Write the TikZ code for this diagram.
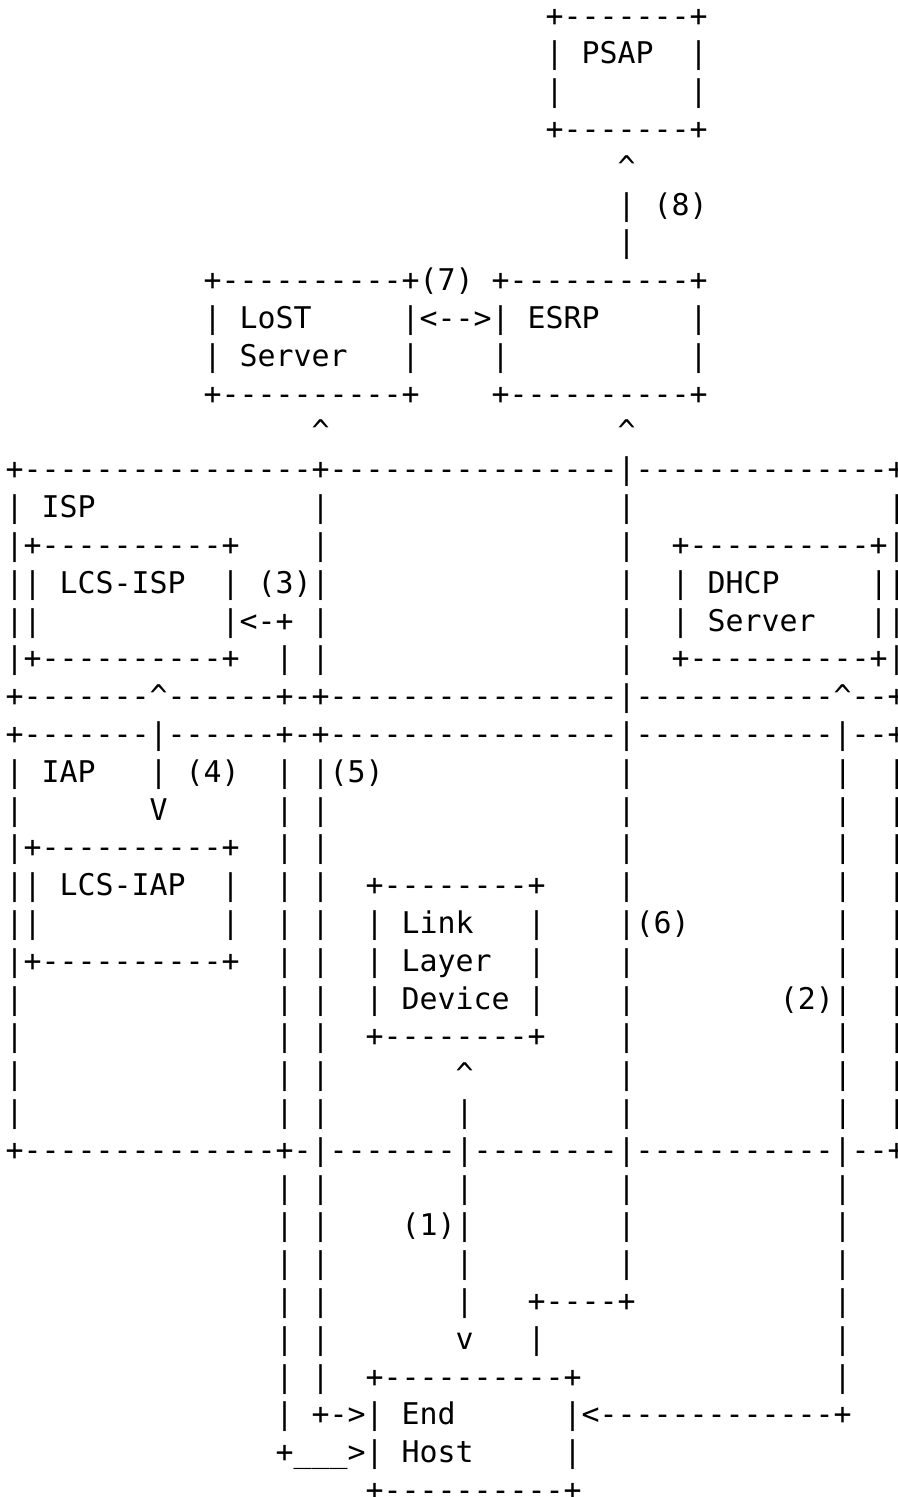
\documentclass[tikz,border=0pt]{standalone}
\usepackage{fontspec}
\newfontfamily\asciifont{DejaVu Sans Mono}
% blank run of n character cells
\newcommand\gap[1]{\kern#1\fontcharwd\font`\x\relax}
\newcommand\upc{\textasciicircum}
% last cell on the right border (cut by the page edge)
\newcommand\edge[1]{\rlap{#1}}
\begin{document}
\begin{tikzpicture}[x=9pt,y=-18.9pt,
    txt/.style={anchor=base west,inner sep=0pt,
      font=\asciifont\fontsize{14.95}{18.9}\selectfont}]
  \useasboundingbox (0pt,0pt) rectangle (449pt,-748.5pt);
  \begin{scope}[shift={(2.65pt,-13.1pt)}]
    % ===== PSAP and ESRP link =====
    \node[txt] (r0) at (30,0) {+-------+};
    \node[txt] (r1) at (30,1) {|~PSAP\gap2|};
    \node[txt] (r2) at (30,2) {|\gap7|};
    \node[txt] (r3) at (30,3) {+-------+};
    \node[txt] (r4) at (34,4) {\upc};
    \node[txt] (r5) at (34,5) {|~(8)};
    \node[txt] (r6) at (34,6) {|};

    % ===== LoST server and ESRP =====
    \node[txt] (r7) at (11,7) {+----------+(7)~+----------+};
    \node[txt] (r8) at (11,8) {|~LoST\gap5|<-->|~ESRP\gap5|};
    \node[txt] (r9) at (11,9) {|~Server\gap3|\gap4|\gap{10}|};
    \node[txt] (r10) at (11,10) {+----------+\gap4+----------+};
    \node[txt] (r11) at (17,11) {\upc\gap{16}\upc};

    % ===== ISP =====
    \node[txt] (r12) at (0,12) {+----------------+----------------|--------------\edge{+}};
    \node[txt] (r13) at (0,13) {|~ISP\gap{12}|\gap{16}|\gap{14}\edge{|}};
    \node[txt] (r14) at (0,14) {|+----------+\gap4|\gap{16}|\gap2+----------+\edge{|}};
    \node[txt] (r15) at (0,15) {||~LCS-ISP\gap2|~(3)|\gap{16}|\gap2|~DHCP\gap5|\edge{|}};
    \node[txt] (r16) at (0,16) {||\gap{10}|<-+~|\gap{16}|\gap2|~Server\gap3|\edge{|}};
    \node[txt] (r17) at (0,17) {|+----------+\gap2|~|\gap{16}|\gap2+----------+\edge{|}};
    \node[txt] (r18) at (0,18) {+-------\upc------+-+----------------|-----------\upc--\edge{+}};

    % ===== IAP =====
    \node[txt] (r19) at (0,19) {+-------|------+-+----------------|-----------|--\edge{+}};
    \node[txt] (r20) at (0,20) {|~IAP\gap3|~(4)\gap2|~|(5)\gap{13}|\gap{11}|\gap2\edge{|}};
    \node[txt] (r21) at (0,21) {|\gap7V\gap6|~|\gap{16}|\gap{11}|\gap2\edge{|}};
    \node[txt] (r22) at (0,22) {|+----------+\gap2|~|\gap{16}|\gap{11}|\gap2\edge{|}};
    \node[txt] (r23) at (0,23) {||~LCS-IAP\gap2|\gap2|~|\gap2+--------+\gap4|\gap{11}|\gap2\edge{|}};
    \node[txt] (r24) at (0,24) {||\gap{10}|\gap2|~|\gap2|~Link\gap3|\gap4|(6)\gap8|\gap2\edge{|}};
    \node[txt] (r25) at (0,25) {|+----------+\gap2|~|\gap2|~Layer\gap2|\gap4|\gap{11}|\gap2\edge{|}};
    \node[txt] (r26) at (0,26) {|\gap{14}|~|\gap2|~Device~|\gap4|\gap8(2)|\gap2\edge{|}};
    \node[txt] (r27) at (0,27) {|\gap{14}|~|\gap2+--------+\gap4|\gap{11}|\gap2\edge{|}};
    \node[txt] (r28) at (0,28) {|\gap{14}|~|\gap7\upc\gap8|\gap{11}|\gap2\edge{|}};
    \node[txt] (r29) at (0,29) {|\gap{14}|~|\gap7|\gap8|\gap{11}|\gap2\edge{|}};
    \node[txt] (r30) at (0,30) {+--------------+-|-------|--------|-----------|--\edge{+}};

    % ===== End host =====
    \node[txt] (r31) at (15,31) {|~|\gap7|\gap8|\gap{11}|};
    \node[txt] (r32) at (15,32) {|~|\gap4(1)|\gap8|\gap{11}|};
    \node[txt] (r33) at (15,33) {|~|\gap7|\gap8|\gap{11}|};
    \node[txt] (r34) at (15,34) {|~|\gap7|\gap3+----+\gap{11}|};
    \node[txt] (r35) at (15,35) {|~|\gap7v\gap3|\gap{16}|};
    \node[txt] (r36) at (15,36) {|~|\gap2+----------+\gap{14}|};
    \node[txt] (r37) at (15,37) {|~+->|~End\gap6|<-------------+};
    \node[txt] (r38) at (15,38) {+\_\_\_>|~Host\gap5|};
    \node[txt] (r39) at (20,39) {+----------+};
  \end{scope}
\end{tikzpicture}
\end{document}
